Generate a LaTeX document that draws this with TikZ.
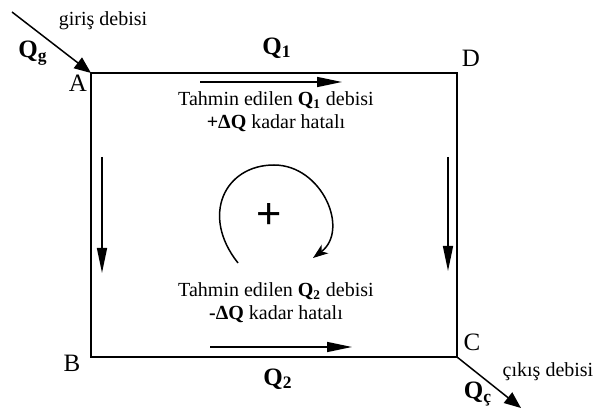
\documentclass[tikz,border=0pt]{standalone}
\usepackage{fontspec}
\setmainfont{Liberation Serif}
\setsansfont{Liberation Sans}
\usetikzlibrary{arrows.meta,positioning}
\tikzset{
  wire/.style      = {line width=1.2pt},
  flow/.style      = {-{Triangle[length=15pt,width=6pt]}, line width=0.9pt},
  feed/.style      = {-{Triangle[length=10pt,width=8pt]}, line width=0.9pt},
  loop arrow/.style= {-{Stealth[length=9pt,width=6.5pt,inset=2.5pt]}, line width=0.9pt},
  corner/.style    = {font=\fontsize{15}{17}\selectfont, inner sep=0pt},
  caption/.style   = {font=\fontsize{12}{14}\selectfont, inner sep=0pt},
  qlabel/.style    = {font=\fontsize{15}{17}\selectfont\bfseries, inner sep=0pt},
  note/.style      = {font=\fontsize{12}{13.8}\selectfont, align=center, inner sep=0pt},
}

\begin{document}
\begin{tikzpicture}[x=0.6pt, y=-0.6pt]
  \useasboundingbox (0,0) rectangle (595,410);

  % =======================================================================
  %  Pipe loop A-D-C-B
  % =======================================================================
  \coordinate (A) at (91,73);
  \coordinate (D) at (457,73);
  \coordinate (C) at (457,357);
  \coordinate (B) at (91,357);
  \draw[wire] (A) -- (D) -- (C) -- (B) -- cycle;

  \node[corner] (lblA) at (78,83)  {A};
  \node[corner] (lblB) at (72,363) {B};
  \node[corner] (lblC) at (472,342) {C};
  \node[corner] (lblD) at (471,58) {D};

  % ---- inflow at A, outflow at C ----------------------------------------
  \coordinate (inlet) at (12,12);
  \coordinate (outlet) at (521,408);
  \draw[feed] (inlet) -- (A);
  \draw[feed] (C) -- (outlet);
  \node[qlabel] (Qg) at (33,53) {Q\textsubscript{g}};
  \node[caption] (giris) at (103,21) {giriş debisi};
  \node[qlabel] (Qc) at (478,394) {Q\textsubscript{ç}};
  \node[caption] (cikis) at (548,372) {çıkış debisi};

  % =======================================================================
  %  Flow directions in the branches
  % =======================================================================
  \coordinate (t1) at (200,82);  \coordinate (t2) at (342,82);
  \coordinate (b1) at (210,347); \coordinate (b2) at (352,347);
  \coordinate (l1) at (102,157); \coordinate (l2) at (102,273);
  \coordinate (r1) at (448,157); \coordinate (r2) at (448,271);
  \draw[flow] (t1) -- (t2);
  \draw[flow] (b1) -- (b2);
  \draw[flow] (l1) -- (l2);
  \draw[flow] (r1) -- (r2);

  \node[qlabel] (Q1) at (277,48)  {Q\textsubscript{1}};
  \node[qlabel] (Q2) at (278,379) {Q\textsubscript{2}};

  \node[note] (est1) at (276,112)
        {Tahmin edilen \textbf{Q\textsubscript{1}} debisi\\
         \textbf{+ΔQ} kadar hatalı};
  \node[note] (est2) at (276,303)
        {Tahmin edilen \textbf{Q\textsubscript{2}} debisi\\
         \textbf{-ΔQ} kadar hatalı};

  % ---- loop sense (clockwise) --------------------------------------------
  \coordinate (lp1) at (238,263);
  \coordinate (lp2) at (274,165);
  \coordinate (lp3) at (313,258);
  \draw[loop arrow] (lp1) .. controls (200,215) and (225,165) .. (lp2)
                          .. controls (322,165) and (350,230) .. (lp3);
  \node[font=\sffamily\fontsize{26}{28}\selectfont, inner sep=0pt] (sign) at (269,216) {+};
\end{tikzpicture}
\end{document}
